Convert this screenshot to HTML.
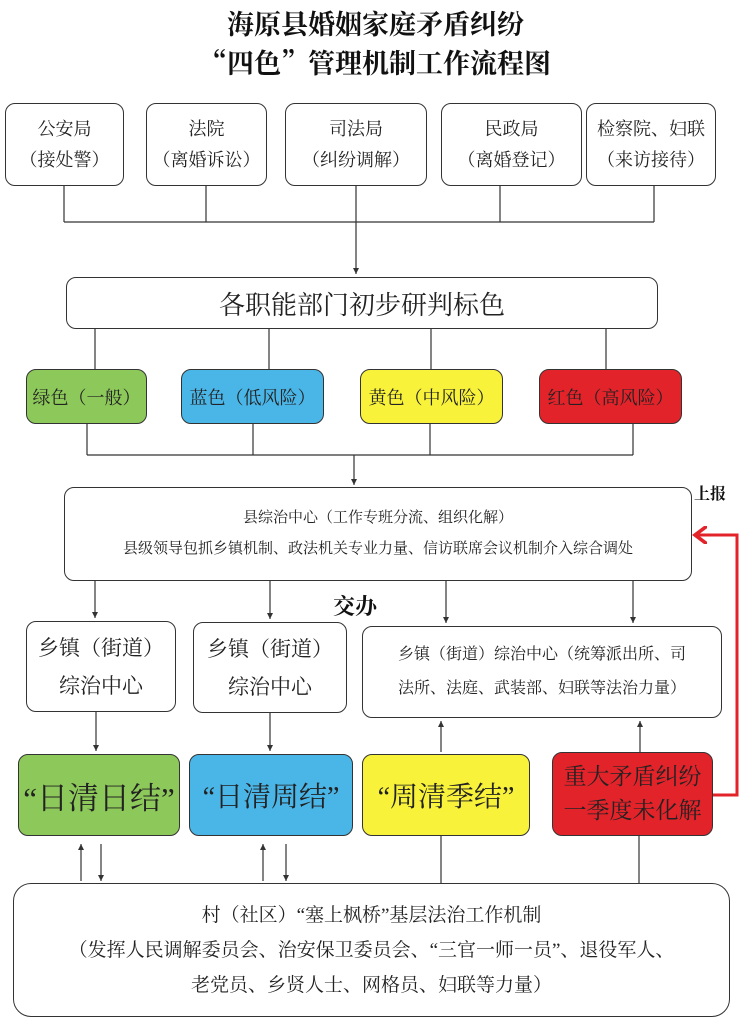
<!DOCTYPE html>
<html><head><meta charset="utf-8"><style>
body{margin:0;width:751px;height:1024px;background:#fff;position:relative;overflow:hidden;font-family:"Liberation Serif","Noto Serif CJK SC",serif;color:#222}
.b{position:absolute;border:1.3px solid #333;border-radius:10px;box-sizing:border-box;display:flex;flex-direction:column;align-items:center;justify-content:center;text-align:center;background:#fff}
.t{position:absolute;font-family:"Noto Serif CJK SC",serif;font-weight:bold;text-align:center;color:#111}
svg{position:absolute;left:0;top:0}
</style></head><body>
<div class="t" style="left:0;width:751px;top:6px;font-size:27px;line-height:34px">海原县婚姻家庭矛盾纠纷</div>
<div class="t" style="left:0;width:751px;top:45px;font-size:27px;line-height:34px">“四色”管理机制工作流程图</div>

<div class="b" style="left:5px;top:103px;width:119px;height:83px;font-size:18px;line-height:31px">公安局<br>（接处警）</div>
<div class="b" style="left:146px;top:103px;width:121px;height:83px;font-size:18px;line-height:31px">法院<br>（离婚诉讼）</div>
<div class="b" style="left:285px;top:103px;width:142px;height:83px;font-size:18px;line-height:31px">司法局<br>（纠纷调解）</div>
<div class="b" style="left:441px;top:103px;width:141px;height:83px;font-size:18px;line-height:31px">民政局<br>（离婚登记）</div>
<div class="b" style="left:586px;top:103px;width:130px;height:83px;font-size:18px;line-height:31px">检察院、妇联<br>（来访接待）</div>

<div class="b" style="left:66px;top:277px;width:592px;height:52px;font-size:26px">各职能部门初步研判标色</div>

<div class="b" style="left:26px;top:369px;width:121px;height:55px;font-size:18px;background:#8dc95a">绿色（一般）</div>
<div class="b" style="left:181px;top:369px;width:143px;height:55px;font-size:18px;background:#4ab6e8">蓝色（低风险）</div>
<div class="b" style="left:360px;top:369px;width:143px;height:55px;font-size:18px;background:#f8f23a">黄色（中风险）</div>
<div class="b" style="left:539px;top:369px;width:143px;height:55px;font-size:18px;background:#e3232a">红色（高风险）</div>

<div class="b" style="left:64px;top:487px;width:628px;height:94px;font-size:15px;line-height:31px">县综治中心（工作专班分流、组织化解）<br>县级领导包抓乡镇机制、政法机关专业力量、信访联席会议机制介入综合调处</div>
<div class="t" style="left:694px;top:481px;font-size:16px">上报</div>
<div class="t" style="left:320px;top:590px;font-size:22px;width:70px">交办</div>

<div class="b" style="left:26px;top:621px;width:150px;height:91px;font-size:21px;line-height:38px">乡镇（街道）<br>综治中心</div>
<div class="b" style="left:193px;top:622px;width:154px;height:91px;font-size:21px;line-height:38px">乡镇（街道）<br>综治中心</div>
<div class="b" style="left:362px;top:626px;width:360px;height:92px;font-size:16px;line-height:34px">乡镇（街道）综治中心（统筹派出所、司<br>法所、法庭、武装部、妇联等法治力量）</div>

<div class="b" style="left:18px;top:754px;width:162px;height:82px;font-size:31px;background:#8dc95a">“日清日结”</div>
<div class="b" style="left:189px;top:754px;width:164px;height:82px;font-size:28px;background:#4ab6e8">“日清周结”</div>
<div class="b" style="left:362px;top:754px;width:168px;height:82px;font-size:28px;background:#f8f23a">“周清季结”</div>
<div class="b" style="left:552px;top:752px;width:161px;height:84px;font-size:23px;line-height:34px;background:#e3232a">重大矛盾纠纷<br>一季度未化解</div>

<div class="b" style="left:13px;top:883px;width:717px;height:134px;font-size:19px;line-height:35px;border-radius:18px">村（社区）“塞上枫桥”基层法治工作机制<br>（发挥人民调解委员会、治安保卫委员会、“三官一师一员”、退役军人、<br>老党员、乡贤人士、网格员、妇联等力量）</div>

<svg width="751" height="1024" viewBox="0 0 751 1024">
<defs><marker id="a" markerWidth="6" markerHeight="6" refX="5" refY="3" orient="auto"><path d="M0,0.5 L5,3 L0,5.5z" fill="#333"/></marker>
<marker id="r" markerWidth="5" markerHeight="6" refX="4" refY="3" orient="auto"><path d="M0,0 L4,3 L0,6" fill="none" stroke="#e3232a" stroke-width="1.2"/></marker></defs>
<g stroke="#333" stroke-width="1.2" fill="none">
<path d="M64,186V222M206,186V222M356,186V222M500,186V222M654,186V222M64,222H654"/>
<path d="M356,222V274" marker-end="url(#a)"/>
<path d="M95,329V369M269,329V369M431,329V369M606,329V369"/>
<path d="M87,424V455M253,424V455M430,424V455M633,424V455M87,455H633"/>
<path d="M354,455V485" marker-end="url(#a)"/>
<path d="M95,581V618" marker-end="url(#a)"/>
<path d="M270,581V619" marker-end="url(#a)"/>
<path d="M446,581V623" marker-end="url(#a)"/>
<path d="M633,581V623" marker-end="url(#a)"/>
<path d="M96,712V751" marker-end="url(#a)"/>
<path d="M270,713V751" marker-end="url(#a)"/>
<path d="M441,752V721" marker-end="url(#a)"/>
<path d="M640,752V721" marker-end="url(#a)"/>
<path d="M81,881V844" marker-end="url(#a)"/>
<path d="M263,881V844" marker-end="url(#a)"/>
<path d="M101,844V881" marker-end="url(#a)"/>
<path d="M286,844V881" marker-end="url(#a)"/>
<path d="M441,836V883M639,836V883"/>
</g>
<path d="M713,795H737V535H695" stroke="#e3232a" stroke-width="3" fill="none" marker-end="url(#r)"/>
</svg>
</body></html>
